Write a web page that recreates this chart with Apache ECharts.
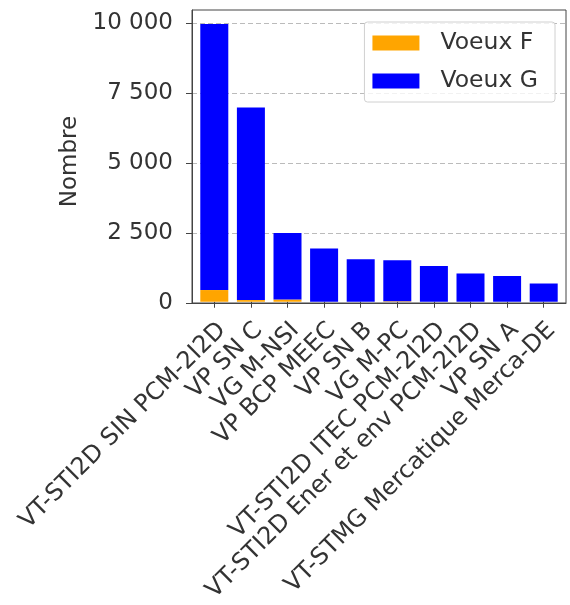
<!DOCTYPE html>
<html>
<head>
<meta charset="utf-8">
<script src="https://cdn.jsdelivr.net/npm/echarts@6/dist/echarts.min.js"></script>
<style>
html,body{margin:0;padding:0;background:#fff;}
#chart{width:570px;height:605px;}
</style>
</head>
<body>
<div id="chart"></div>
<script>
const categories = ['VT-STI2D SIN PCM-2I2D','VP SN C','VG M-NSI','VP BCP MEEC','VP SN B','VG M-PC','VT-STI2D ITEC PCM-2I2D','VT-STI2D Ener et env PCM-2I2D','VP SN A','VT-STMG Mercatique Merca-DE'];
const voeuxF = [420, 60, 80, 0, 0, 20, 0, 0, 0, 0];
const voeuxG = [9560, 6920, 2390, 1910, 1530, 1470, 1280, 1015, 925, 655];
const yTicks = [0, 2500, 5000, 7500, 10000];
const yMax = 10480;

function fmt(v){
  const s = String(Math.round(v));
  return s.replace(/\B(?=(\d{3})+(?!\d))/g, ' ');
}

const font = 'DejaVu Sans';
const axisColor = '#444';
const chart = echarts.init(document.getElementById('chart'));
chart.setOption({
  animation: false,
  textStyle: {fontFamily: font},
  grid: [
    {left: 196, right: 8, top: 10, bottom: 302, show: false},
    {left: 192, right: 4, top: 10, bottom: 302, show: true, borderColor: axisColor, borderWidth: 1, backgroundColor: 'transparent'}
  ],
  legend: {
    orient: 'vertical', right: 15, top: 22,
    icon: 'rect',
    itemWidth: 47, itemHeight: 15, itemGap: 14,
    padding: [9, 17, 9, 8],
    borderColor: '#d0d0d0', borderWidth: 1, borderRadius: 3,
    backgroundColor: 'rgba(255,255,255,0.8)',
    textStyle: {fontFamily: font, fontSize: 23.5, lineHeight: 23, color: '#333', padding: [0, 0, 0, 16]},
    data: ['Voeux F', 'Voeux G']
  },
  xAxis: [
    {
      type: 'category', data: categories, gridIndex: 0,
      axisLine: {show: false},
      axisTick: {show: true, alignWithLabel: true, length: 6, lineStyle: {color: axisColor}},
      axisLabel: {
        interval: 0, rotate: 45, fontSize: 24, lineHeight: 22, color: '#333', margin: 17,
        align: 'right', verticalAlign: 'top', fontFamily: font
      }
    },
    {
      type: 'value', gridIndex: 1, min: 0, max: 1,
      axisLine: {show: true, onZero: false, lineStyle: {color: axisColor}},
      axisTick: {show: false}, axisLabel: {show: false}, splitLine: {show: false}
    }
  ],
  yAxis: [
    {type: 'value', gridIndex: 0, min: 0, max: yMax, show: false, splitLine: {show: false}},
    {
      type: 'value', gridIndex: 1, min: 0, max: yMax, interval: 2500,
      name: 'Nombre', nameLocation: 'middle', nameGap: 100, nameRotate: 90,
      nameTextStyle: {fontSize: 23, color: '#333', fontFamily: font, padding: [0, 10, 0, 0]},
      axisLine: {show: true, lineStyle: {color: axisColor}},
      axisTick: {show: true, length: 6, lineStyle: {color: axisColor}, customValues: yTicks},
      axisLabel: {fontSize: 23, color: '#333', margin: 19, fontFamily: font, customValues: yTicks, formatter: fmt},
      splitLine: {show: true, lineStyle: {color: '#bbb', type: [5, 3], width: 1}}
    }
  ],
  series: [
    {name: 'Voeux F', type: 'bar', stack: 'v', xAxisIndex: 0, yAxisIndex: 0, data: voeuxF, barWidth: 28, itemStyle: {color: '#FFA500'}},
    {name: 'Voeux G', type: 'bar', stack: 'v', xAxisIndex: 0, yAxisIndex: 0, data: voeuxG, barWidth: 28, itemStyle: {color: '#0000FF'}}
  ]
});
</script>
</body>
</html>
